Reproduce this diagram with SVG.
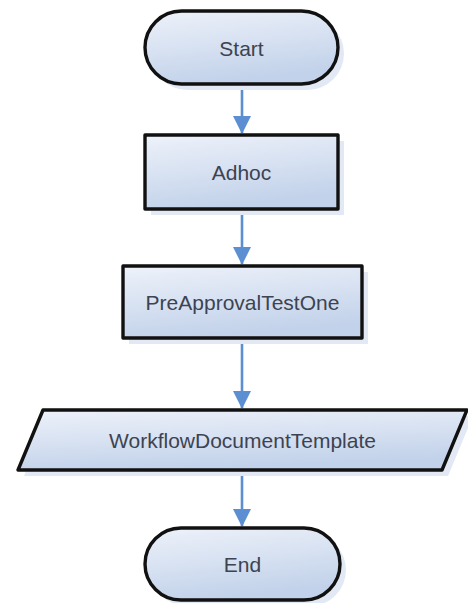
<svg xmlns="http://www.w3.org/2000/svg" width="468" height="603" viewBox="0 0 468 603">
  <style>
    .shape { fill: url(#fillGrad); stroke: #111111; stroke-width: 3.4; stroke-linejoin: round; }
    .shadow { fill: #e2e9f4; stroke: none; }
    .label { font-family: "Liberation Sans", Arial, sans-serif; font-size: 21px; fill: #3d4350; text-anchor: middle; dominant-baseline: central; }
    .conn { stroke: #5b8fd2; stroke-width: 2.6; fill: none; marker-end: url(#arrow); }
  </style>
  <defs>
    <linearGradient id="fillGrad" x1="0" y1="0" x2="0.3" y2="1">
      <stop offset="0" stop-color="#eef2fa"/>
      <stop offset="1" stop-color="#c2d2ea"/>
    </linearGradient>
    <marker id="arrow" markerUnits="userSpaceOnUse" markerWidth="18" markerHeight="18" viewBox="0 0 18 18" refX="17" refY="9" orient="auto">
      <path d="M0,0 L18,9 L0,18 Z" fill="#5b8fd2"/>
    </marker>
  </defs>
  <rect width="468" height="603" fill="#ffffff"/>

  <g id="connectors">
    <line class="conn" x1="242" y1="85" x2="242" y2="133"/>
    <line class="conn" x1="242" y1="210" x2="242" y2="264"/>
    <line class="conn" x1="242" y1="339" x2="242" y2="408"/>
    <line class="conn" x1="242" y1="471" x2="242" y2="526"/>
  </g>

  <g id="node-start">
    <rect class="shadow" x="151" y="17" width="193" height="73" rx="36.5"/>
    <rect class="shape" x="145" y="11" width="193" height="73" rx="36.5"/>
    <text class="label" x="241.5" y="48">Start</text>
  </g>

  <g id="node-adhoc">
    <rect class="shadow" x="151" y="141" width="193" height="74"/>
    <rect class="shape" x="145" y="135" width="193" height="74"/>
    <text class="label" x="241.5" y="172">Adhoc</text>
  </g>

  <g id="node-preapproval">
    <rect class="shadow" x="129" y="272" width="239" height="72"/>
    <rect class="shape" x="123" y="266" width="239" height="72"/>
    <text class="label" x="242.5" y="302">PreApprovalTestOne</text>
  </g>

  <g id="node-workflow">
    <polygon class="shadow" points="49,416 473,416 448,476 24,476"/>
    <polygon class="shape" points="43,410 467,410 442,470 18,470"/>
    <text class="label" x="242.5" y="440">WorkflowDocumentTemplate</text>
  </g>

  <g id="node-end">
    <rect class="shadow" x="151" y="534" width="195" height="72" rx="36"/>
    <rect class="shape" x="145" y="528" width="195" height="72" rx="36"/>
    <text class="label" x="242.5" y="564">End</text>
  </g>
</svg>
